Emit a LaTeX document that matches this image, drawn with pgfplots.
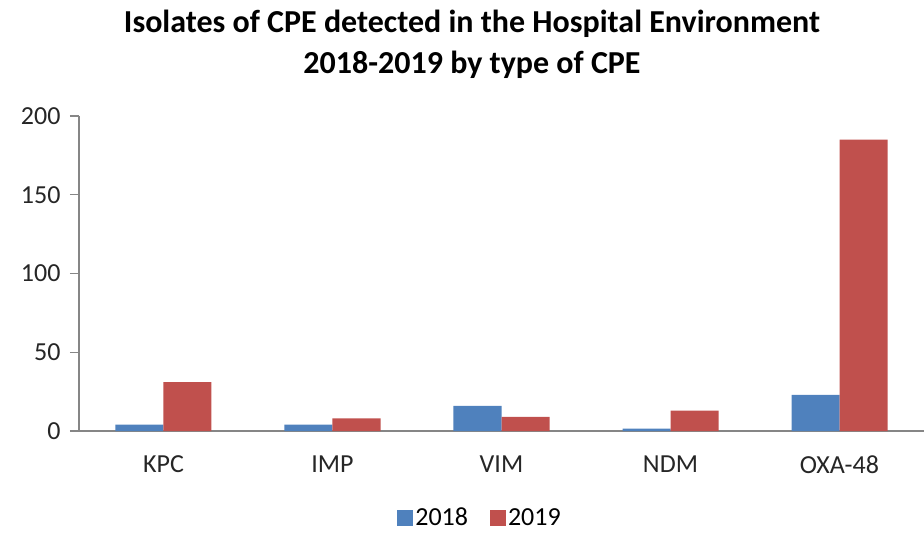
\documentclass[border=0pt]{standalone}
\usepackage{pgfplots}
\pgfplotsset{compat=1.18}
\usepackage{fontspec}
\setmainfont{Carlito}
\definecolor{cblue}{HTML}{4F81BD}
\definecolor{cred}{HTML}{C0504D}
\definecolor{axgray}{HTML}{868686}
\begin{document}
\begin{tikzpicture}
\path[use as bounding box] (-79pt,-102pt) rectangle (845pt,431pt);
\begin{axis}[
  at={(0pt,0pt)}, anchor=south west,
  scale only axis, width=845pt, height=315pt,
  ybar=0pt, bar width=48pt,
  xmin=-0.5, xmax=4.5, ymin=0, ymax=200,
  ytick={0,50,...,200},
  xtick={0,1,2,3,4},
  xticklabels={KPC,IMP,VIM,NDM,OXA-48},
  extra x ticks={-0.5,0.5,1.5,2.5,3.5,4.5},
  extra x tick labels={},
  extra x tick style={major tick length=9pt, tick style={axgray, line width=1.2pt}},
  axis lines*=left,
  axis line style={axgray, line width=1.2pt},
  tick align=outside,
  major tick length=9pt,
  x tick style={draw=none},
  y tick style={axgray, line width=1.2pt},
  tick label style={font=\fontsize{26}{30}\selectfont, text=black!85},
  /pgf/number format/assume math mode=true,
  yticklabel style={xshift=-6pt},
  xticklabel style={yshift=-12pt},
  legend style={at={(0.4746,-0.275)}, anchor=center, draw=none, legend columns=2,
    inner sep=1pt, outer sep=0pt,
    font=\fontsize{26}{28}\selectfont, /tikz/every even column/.append style={column sep=20pt}},
  legend image code/.code={\fill[#1] (0pt,-8pt) rectangle (16pt,8pt);},
]
\addplot[fill=cblue, draw=none] coordinates {(0,4) (1,4) (2,16) (3,1.5) (4,23)};
\addplot[fill=cred, draw=none] coordinates {(0,31) (1,8) (2,9) (3,13) (4,185)};
\legend{2018,2019}
\end{axis}
\node[align=center, font=\bfseries\fontsize{32}{41}\selectfont, anchor=north] at (393pt,424pt)
  {Isolates of CPE detected in the Hospital Environment\\2018-2019 by type of CPE};
\end{tikzpicture}
\end{document}
